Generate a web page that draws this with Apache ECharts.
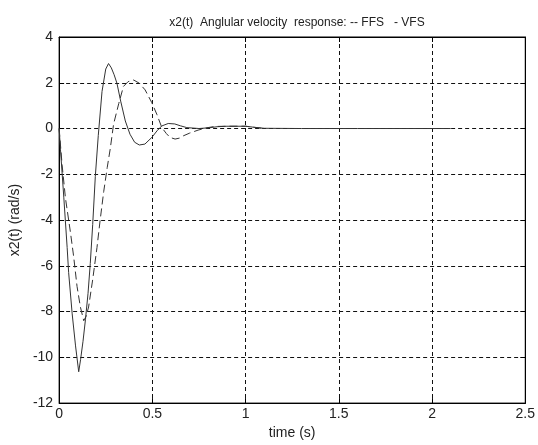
<!DOCTYPE html>
<html>
<head>
<meta charset="utf-8">
<script src="https://cdn.jsdelivr.net/npm/echarts@6/dist/echarts.min.js"></script>
<style>html,body{margin:0;padding:0;background:#fff;}#c{width:538px;height:445px;}</style>
</head>
<body>
<div id="c"></div>
<script>
var titleText = 'x2(t)  Anglular velocity  response: -- FFS   - VFS';
var xName = 'time (s)';
var yName = 'x2(t) (rad/s)';
var xTicks = [0, 0.5, 1, 1.5, 2, 2.5];
var yTicks = [-12, -10, -8, -6, -4, -2, 0, 2, 4];

// VFS (solid)
var vfsT = [0,0.007,0.025,0.043,0.051,0.056,0.07,0.088,0.105,0.115,0.128,0.141,0.155,0.167,0.18,0.194,0.21,0.23,0.25,0.265,0.28,0.295,0.31,0.33,0.355,0.38,0.405,0.43,0.46,0.497,0.525,0.55,0.585,0.62,0.65,0.685,0.75,0.8,0.85,0.9,1.0,1.05,1.1,1.3,1.6,2.1];
var vfsV = [0,-0.9,-3.0,-5.2,-6.3,-6.35,-8.1,-9.5,-10.63,-10.1,-9.3,-8.36,-7.2,-5.9,-4.2,-2.1,-0.3,1.62,2.6,2.84,2.65,2.35,1.98,1.2,0.33,-0.25,-0.6,-0.72,-0.68,-0.39,-0.1,0.11,0.22,0.2,0.12,0.04,0.0,0.03,0.08,0.1,0.1,0.05,0.01,0,0,0];

// FFS (dashed)
var ffsT = [0,0.016,0.034,0.06,0.078,0.096,0.114,0.132,0.145,0.158,0.18,0.203,0.22,0.239,0.258,0.274,0.292,0.32,0.345,0.37,0.4,0.43,0.461,0.497,0.524,0.551,0.575,0.595,0.622,0.645,0.666,0.7,0.745,0.79,0.836,0.9,1.0,1.05,1.1];
var ffsV = [0,-1.6,-3.05,-4.5,-5.6,-6.9,-7.8,-8.4,-8.2,-7.8,-6.6,-5.2,-4.0,-2.76,-1.7,-0.89,0.19,1.1,1.84,2.05,2.12,1.98,1.69,1.13,0.62,0.04,-0.22,-0.39,-0.46,-0.42,-0.32,-0.2,-0.07,0.03,0.09,0.1,0.1,0.05,0];

function zip(a, b) { return a.map(function (v, i) { return [v, b[i]]; }); }

var font = 'Liberation Sans, Arial, sans-serif';
var fs = 14;
var chart = echarts.init(document.getElementById('c'), null, {renderer: 'canvas'});
var gridLine = {show: true, lineStyle: {color: '#111', type: [4, 3], width: 1}};
var axisLine = {show: true, onZero: false, lineStyle: {color: '#000', width: 1}};
var tick = {show: true, inside: true, length: 5, lineStyle: {color: '#000'}};
var label = {color: '#222', fontFamily: font, fontSize: fs};
chart.setOption({
  animation: false,
  backgroundColor: '#fff',
  title: {text: titleText, left: 292, top: 12, textAlign: 'center',
    textStyle: {fontFamily: font, fontSize: 12, fontWeight: 'normal', color: '#222'}},
  grid: {left: 59, right: 12, top: 37, bottom: 37, show: true, borderColor: '#000', borderWidth: 1, backgroundColor: '#fff'},
  xAxis: [
    {type: 'value', min: xTicks[0], max: xTicks[xTicks.length - 1], interval: 0.5,
     name: xName, nameLocation: 'middle', nameGap: 22,
     nameTextStyle: {fontFamily: font, fontSize: fs, color: '#222'},
     axisLine: axisLine, axisTick: tick, splitLine: gridLine,
     axisLabel: Object.assign({margin: 4}, label)},
    {type: 'value', position: 'top', min: 0, max: 2.5, interval: 0.5,
     axisLine: axisLine, axisTick: tick, splitLine: {show: false}, axisLabel: {show: false}}
  ],
  yAxis: [
    {type: 'value', min: yTicks[0], max: yTicks[yTicks.length - 1], interval: 2,
     name: yName, nameLocation: 'middle', nameGap: 33,
     nameTextStyle: {fontFamily: font, fontSize: fs, color: '#222'},
     axisLine: axisLine, axisTick: tick, splitLine: gridLine,
     axisLabel: Object.assign({margin: 6}, label)},
    {type: 'value', position: 'right', min: -12, max: 4, interval: 2,
     axisLine: axisLine, axisTick: tick, splitLine: {show: false}, axisLabel: {show: false}}
  ],
  series: [
    {name: 'FFS', type: 'line', data: zip(ffsT, ffsV), showSymbol: false, smooth: false,
     lineStyle: {color: '#333', width: 1, type: [8, 4]}},
    {name: 'VFS', type: 'line', data: zip(vfsT, vfsV), showSymbol: false, smooth: false,
     lineStyle: {color: '#333', width: 1}}
  ]
});
</script>
</body>
</html>
